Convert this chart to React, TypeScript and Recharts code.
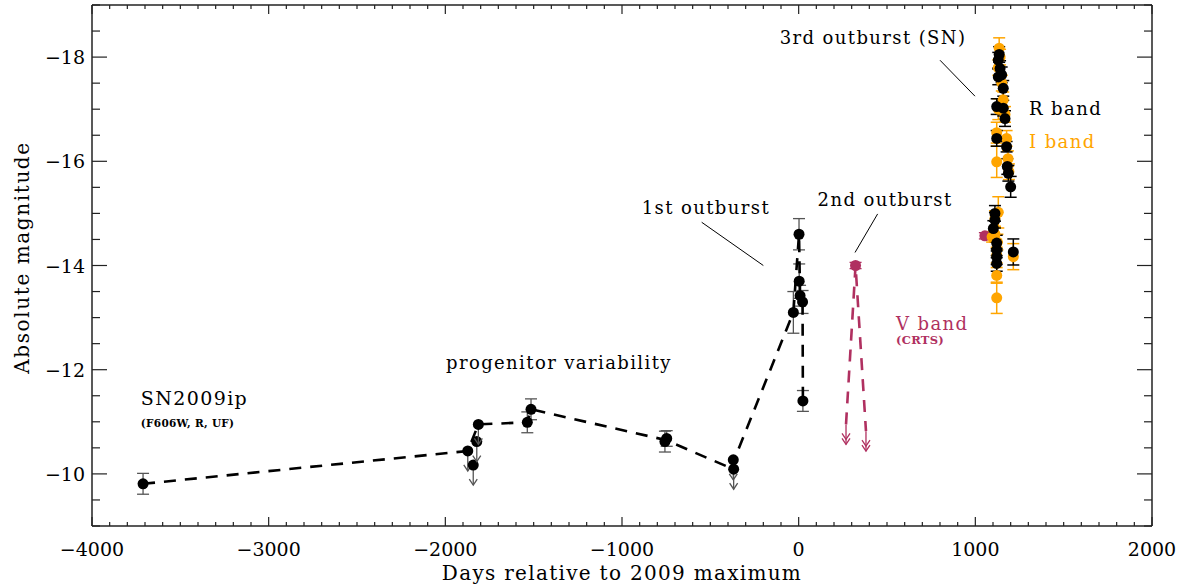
import React from 'react';
import { ComposedChart, Scatter, XAxis, YAxis, ErrorBar, ReferenceLine, ReferenceDot } from 'recharts';

const FONT = '"DejaVu Serif", "Liberation Serif", serif';
const ORANGE = '#FFA500';
const MAROON = '#B03060';
const AXIS = '#222';
const ERRGRAY = '#555';

// ---------- axis ticks ----------
const X_DOMAIN = [-4000, 2000];
const Y_DOMAIN = [-19, -9];
const xMajorTicks = [-4000, -3000, -2000, -1000, 0, 1000, 2000];
const yMajorTicks = [-18, -16, -14, -12, -10];
const xMinorStep = 100;
const yMinorStep = 0.5;
const xTicks: number[] = [];
for (let v = X_DOMAIN[0]; v <= X_DOMAIN[1]; v += xMinorStep) xTicks.push(v);
const yTicks: number[] = [];
for (let k = 0; k <= (Y_DOMAIN[1] - Y_DOMAIN[0]) / yMinorStep; k++) yTicks.push(Y_DOMAIN[0] + k * yMinorStep);

// ---------- data: [day, mag, err] ----------
const progenitorDet = [
  [-3711, -9.81, 0.2],
  [-1536, -10.99, 0.2],
  [-1515, -11.24, 0.2],
  [-757, -10.62, 0.2],
  [-747, -10.68, 0.15],
];
// upper limits [day, mag]
const progenitorLim = [
  [-1873, -10.44],
  [-1842, -10.17],
  [-1822, -10.62],
  [-1813, -10.95],
  [-370, -10.27],
  [-368, -10.09],
];
const outburst1 = [
  [-30, -13.1, 0.4],
  [2, -14.6, 0.3],
  [3, -13.7, 0.33],
  [8, -13.42, 0.2],
  [22, -13.3, 0.22],
  [24, -11.4, 0.2],
];
const progenitorPath = [
  [-3711, -9.81],
  [-1873, -10.44],
  [-1813, -10.95],
  [-1536, -10.99],
  [-1515, -11.24],
  [-752, -10.65],
  [-370, -10.09],
  [-365, -10.27],
  [-30, -13.1],
  [2, -14.6],
  [8, -13.42],
  [22, -13.3],
  [24, -11.4],
];
const vBandDet = [
  [322, -14.0, 0.06],
  [1054, -14.57, 0.06],
];
const vBandLim = [
  [268, -10.95],
  [381, -10.82],
];
const vBandPath = [
  [268, -10.95],
  [322, -14.0],
  [381, -10.82],
];
const rBandSN = [
  [1135, -18.05, 0.15],
  [1130, -17.94, 0.15],
  [1140, -17.78, 0.15],
  [1130, -17.62, 0.15],
  [1149, -17.66, 0.15],
  [1158, -17.4, 0.15],
  [1121, -17.05, 0.15],
  [1158, -17.02, 0.15],
  [1168, -16.82, 0.15],
  [1121, -16.44, 0.15],
  [1177, -16.28, 0.1],
  [1181, -15.9, 0.15],
  [1187, -15.77, 0.15],
  [1200, -15.51, 0.2],
  [1111, -15.0, 0.15],
  [1111, -14.87, 0.15],
  [1102, -14.71, 0.15],
  [1121, -14.43, 0.15],
  [1121, -14.3, 0.15],
  [1121, -14.17, 0.15],
  [1121, -14.04, 0.15],
  [1215, -14.26, 0.25],
];
const iBandSN = [
  [1135, -18.17, 0.2],
  [1140, -18.0, 0.15],
  [1130, -17.8, 0.15],
  [1150, -17.5, 0.15],
  [1158, -17.18, 0.15],
  [1130, -17.0, 0.2],
  [1121, -16.55, 0.2],
  [1168, -16.9, 0.15],
  [1177, -16.44, 0.15],
  [1121, -15.99, 0.3],
  [1185, -16.05, 0.15],
  [1190, -15.8, 0.15],
  [1130, -15.02, 0.3],
  [1111, -14.9, 0.15],
  [1111, -14.6, 0.15],
  [1125, -14.45, 0.15],
  [1121, -14.2, 0.15],
  [1121, -13.81, 0.15],
  [1121, -13.38, 0.3],
  [1215, -14.17, 0.25],
  [1095, -14.55, 0.1],
];

// ---------- annotations ----------
const texts = [
  { x: 421, y: -18.37, text: '3rd outburst (SN)', anchor: 'middle', size: 18, color: '#000', weight: 'normal' },
  { x: -525, y: -15.12, text: '1st outburst', anchor: 'middle', size: 18, color: '#000', weight: 'normal' },
  { x: 489, y: -15.26, text: '2nd outburst', anchor: 'middle', size: 18, color: '#000', weight: 'normal' },
  { x: -1357, y: -12.13, text: 'progenitor variability', anchor: 'middle', size: 18, color: '#000', weight: 'normal' },
  { x: -3724, y: -11.46, text: 'SN2009ip', anchor: 'start', size: 19, color: '#000', weight: 'normal' },
  { x: -3724, y: -10.98, text: '(F606W, R, UF)', anchor: 'start', size: 10.5, color: '#000', weight: 'bold' },
  { x: 1304, y: -17.02, text: 'R band', anchor: 'start', size: 18, color: '#000', weight: 'normal' },
  { x: 1304, y: -16.38, text: 'I band', anchor: 'start', size: 18, color: ORANGE, weight: 'normal' },
  { x: 551, y: -12.88, text: 'V band', anchor: 'start', size: 18, color: MAROON, weight: 'normal' },
  { x: 551, y: -12.57, text: '(CRTS)', anchor: 'start', size: 11.5, color: MAROON, weight: 'bold' },
];
const leaders = [
  [[800, -17.94], [998, -17.25]],
  [[-549, -14.83], [-200, -14.0]],
  [[447, -14.99], [319, -14.25]],
];

const toPts = (arr: number[][]) => arr.map(([x, y, e]) => ({ x, y, err: e }));

const fmt = (v: number) => (v < 0 ? '\u2212' + Math.abs(v) : String(v));

const BottomTick = (p: any) => {
  const v = p.payload.value;
  const major = xMajorTicks.includes(v);
  return (
    <g>
      <line x1={p.x} y1={p.y} x2={p.x} y2={p.y - (major ? 9 : 4)} stroke={AXIS} strokeWidth={1.2} />
      {major && (
        <text x={p.x} y={p.y + 23} textAnchor="middle" dominantBaseline="central" fontFamily={FONT} fontSize={19} fill="#000">
          {fmt(v)}
        </text>
      )}
    </g>
  );
};
const TopTick = (p: any) => {
  const v = p.payload.value;
  const major = xMajorTicks.includes(v);
  return <line x1={p.x} y1={p.y} x2={p.x} y2={p.y + (major ? 9 : 4)} stroke={AXIS} strokeWidth={1.2} />;
};
const LeftTick = (p: any) => {
  const v = p.payload.value;
  const major = yMajorTicks.includes(v);
  return (
    <g>
      <line x1={p.x} y1={p.y} x2={p.x + (major ? 15 : 8)} y2={p.y} stroke={AXIS} strokeWidth={1.2} />
      {major && (
        <text x={p.x - 7} y={p.y} textAnchor="end" dominantBaseline="central" fontFamily={FONT} fontSize={19} fill="#000">
          {fmt(v)}
        </text>
      )}
    </g>
  );
};
const RightTick = (p: any) => {
  const v = p.payload.value;
  const major = yMajorTicks.includes(v);
  return <line x1={p.x} y1={p.y} x2={p.x - (major ? 15 : 8)} y2={p.y} stroke={AXIS} strokeWidth={1.2} />;
};

const dotShape = (color: string, r: number) => (p: any) => <circle cx={p.cx} cy={p.cy} r={r} fill={color} />;
const limitShape = (color: string, arrowColor: string, withDot: boolean, double: boolean, len: number) => (p: any) => {
  const { cx, cy } = p;
  return (
    <g>
      <line x1={cx} y1={cy} x2={cx} y2={cy + len} stroke={arrowColor} strokeWidth={1.3} />
      <polyline points={`${cx - 4},${cy + len - 6} ${cx},${cy + len} ${cx + 4},${cy + len - 6}`} fill="none" stroke={arrowColor} strokeWidth={1.3} />
      {double && (
        <polyline points={`${cx - 4},${cy + len - 11} ${cx},${cy + len - 5} ${cx + 4},${cy + len - 11}`} fill="none" stroke={arrowColor} strokeWidth={1.3} />
      )}
      {withDot && <circle cx={cx} cy={cy} r={5.5} fill={color} />}
    </g>
  );
};
const noShape = () => <g />;

const renderText = (t: any, i: number) => (
  <ReferenceDot
    key={'t' + i}
    xAxisId="b"
    yAxisId="l"
    x={t.x}
    y={t.y}
    r={0}
    fill="none"
    stroke="none"
    ifOverflow="visible"
    label={{
      content: (lp: any) => {
        const vb = lp.viewBox || {};
        const cx = (vb.x ?? 0) + (vb.width ?? 0) / 2;
        const cy = (vb.y ?? 0) + (vb.height ?? 0) / 2;
        return (
          <text
            x={cx}
            y={cy}
            textAnchor={t.anchor}
            dominantBaseline="central"
            fontFamily={FONT}
            fontSize={t.size}
            fontWeight={t.weight}
            fill={t.color}
            style={{ letterSpacing: t.size > 14 ? '1.4px' : '0.3px' }}
          >
            {t.text}
          </text>
        );
      },
    }}
  />
);

export default function App() {
  return (
    <div style={{ position: 'absolute', left: 0, top: 0, width: 1181, height: 584, background: '#fff' }}>
      <ComposedChart width={1181} height={584} margin={{ top: 4, right: 28, bottom: 0, left: 0 }}>
        <XAxis
          xAxisId="b"
          type="number"
          dataKey="x"
          orientation="bottom"
          domain={X_DOMAIN}
          allowDataOverflow
          ticks={xTicks}
          interval={0}
          tickLine={false}
          tickSize={0}
          tickMargin={0}
          tick={<BottomTick />}
          height={58}
          axisLine={{ stroke: AXIS, strokeWidth: 1.5 }}
          label={{
            content: (lp: any) => {
              const vb = lp.viewBox;
              return (
                <text x={vb.x + vb.width / 2} y={vb.y + 47} textAnchor="middle" dominantBaseline="central" fontFamily={FONT} fontSize={20} fill="#000" style={{ letterSpacing: '1.3px' }}>
                  Days relative to 2009 maximum
                </text>
              );
            },
          }}
        />
        <XAxis
          xAxisId="t"
          type="number"
          dataKey="x"
          orientation="top"
          domain={X_DOMAIN}
          allowDataOverflow
          ticks={xTicks}
          interval={0}
          tickLine={false}
          tickSize={0}
          tickMargin={0}
          tick={<TopTick />}
          height={1}
          axisLine={{ stroke: AXIS, strokeWidth: 1.5 }}
        />
        <YAxis
          yAxisId="l"
          type="number"
          dataKey="y"
          orientation="left"
          domain={Y_DOMAIN}
          reversed
          allowDataOverflow
          ticks={yTicks}
          interval={0}
          tickLine={false}
          tickSize={0}
          tickMargin={0}
          tick={<LeftTick />}
          width={92}
          axisLine={{ stroke: AXIS, strokeWidth: 1.5 }}
          label={{
            content: (lp: any) => {
              const vb = lp.viewBox;
              const cx = vb.x + 22;
              const cy = vb.y + vb.height / 2 - 8;
              return (
                <text x={cx} y={cy} transform={`rotate(-90 ${cx} ${cy})`} textAnchor="middle" dominantBaseline="central" fontFamily={FONT} fontSize={20} fill="#000" style={{ letterSpacing: '1.6px' }}>
                  Absolute magnitude
                </text>
              );
            },
          }}
        />
        <YAxis
          yAxisId="r"
          type="number"
          dataKey="y"
          orientation="right"
          domain={Y_DOMAIN}
          reversed
          allowDataOverflow
          ticks={yTicks}
          interval={0}
          tickLine={false}
          tickSize={0}
          tickMargin={0}
          tick={<RightTick />}
          width={1}
          axisLine={{ stroke: AXIS, strokeWidth: 1.5 }}
        />

        <Scatter xAxisId="t" yAxisId="r" data={[{ x: 0, y: -14 }]} shape={noShape} isAnimationActive={false} />

        {leaders.map((s, i) => (
          <ReferenceLine
            key={'l' + i}
            xAxisId="b"
            yAxisId="l"
            segment={[{ x: s[0][0], y: s[0][1] }, { x: s[1][0], y: s[1][1] }]}
            stroke="#000"
            strokeWidth={1}
          />
        ))}

        <Scatter
          xAxisId="b"
          yAxisId="l"
          data={toPts(progenitorPath)}
          fill="none"
          line={{ stroke: '#000', strokeWidth: 2.6, strokeDasharray: '12 9', fill: 'none' }}
          lineType="joint"
          shape={noShape}
          isAnimationActive={false}
        />
        <Scatter
          xAxisId="b"
          yAxisId="l"
          data={toPts(vBandPath)}
          fill="none"
          line={{ stroke: MAROON, strokeWidth: 2.6, strokeDasharray: '12 9', fill: 'none' }}
          lineType="joint"
          shape={noShape}
          isAnimationActive={false}
        />

        <Scatter xAxisId="b" yAxisId="l" data={toPts(vBandDet)} shape={dotShape(MAROON, 5.5)} isAnimationActive={false}>
          <ErrorBar dataKey="err" direction="y" width={6} stroke={MAROON} strokeWidth={1.3} />
        </Scatter>
        <Scatter xAxisId="b" yAxisId="l" data={toPts(vBandLim)} shape={limitShape(MAROON, MAROON, false, true, 20)} isAnimationActive={false} />

        <Scatter xAxisId="b" yAxisId="l" data={toPts(progenitorDet)} shape={dotShape('#000', 5.5)} isAnimationActive={false}>
          <ErrorBar dataKey="err" direction="y" width={6} stroke={ERRGRAY} strokeWidth={1.3} />
        </Scatter>
        <Scatter xAxisId="b" yAxisId="l" data={toPts(progenitorLim)} shape={limitShape('#000', ERRGRAY, true, false, 20)} isAnimationActive={false} />
        <Scatter xAxisId="b" yAxisId="l" data={toPts(outburst1)} shape={dotShape('#000', 5.5)} isAnimationActive={false}>
          <ErrorBar dataKey="err" direction="y" width={6} stroke={ERRGRAY} strokeWidth={1.3} />
        </Scatter>

        <Scatter xAxisId="b" yAxisId="l" data={toPts(iBandSN)} shape={dotShape(ORANGE, 5.5)} isAnimationActive={false}>
          <ErrorBar dataKey="err" direction="y" width={6} stroke={ORANGE} strokeWidth={1.5} />
        </Scatter>
        <Scatter xAxisId="b" yAxisId="l" data={toPts(rBandSN)} shape={dotShape('#000', 5.5)} isAnimationActive={false}>
          <ErrorBar dataKey="err" direction="y" width={6} stroke="#000" strokeWidth={1.5} />
        </Scatter>

        {texts.map(renderText)}
      </ComposedChart>
    </div>
  );
}
